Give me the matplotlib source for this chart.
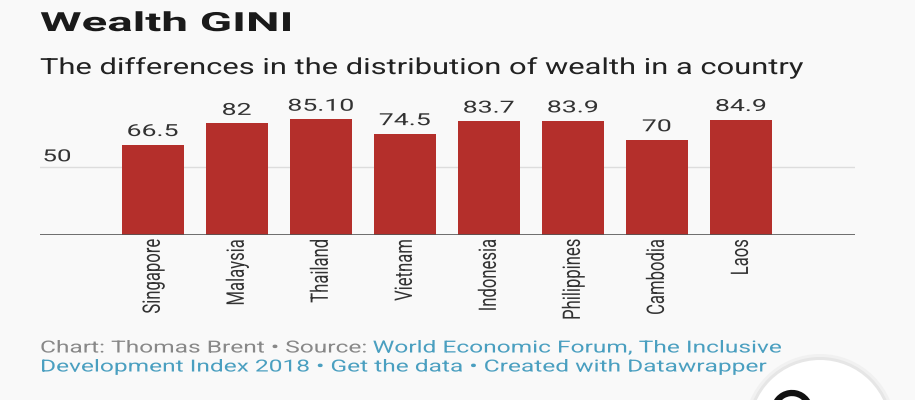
import matplotlib
matplotlib.use('Agg')
import matplotlib.pyplot as plt
from matplotlib.patches import Ellipse, Arc
from matplotlib.patheffects import AbstractPathEffect
from matplotlib.transforms import Affine2D

countries = ['Singapore', 'Malaysia', 'Thailand', 'Vietnam', 'Indonesia',
             'Philippines', 'Cambodia', 'Laos']
gini = [66.5, 82, 85.10, 74.5, 83.7, 83.9, 70, 84.9]
gini_labels = ['66.5', '82', '85.10', '74.5', '83.7', '83.9', '70', '84.9']


class Stretch(AbstractPathEffect):
    # the source screenshot is stretched sideways, so widen the glyphs to match
    def __init__(self, sx=1.0, sy=1.0, center=False):
        super().__init__()
        self.sx, self.sy, self.center = sx, sy, center

    def draw_path(self, renderer, gc, tpath, affine, rgbFace=None):
        cx = 0
        if self.center:
            ext = tpath.get_extents()
            cx = (ext.x0 + ext.x1) / 2
        t = Affine2D().translate(-cx, -36).scale(self.sx, self.sy).translate(cx, 36) + affine
        renderer.draw_path(gc, tpath, t, rgbFace)


plt.rcParams['font.family'] = ['Roboto', 'DejaVu Sans']
bg = '#f9f9f9'
W, H = 915, 400
fig = plt.figure(figsize=(9.15, 4.0), dpi=100, facecolor=bg)
ax = fig.add_axes([40 / W, 165 / H, 815 / W, 122.4 / H])
ax.set_facecolor(bg)

x = list(range(len(countries)))
bars = ax.bar(x, gini, width=0.74, color='#b42f2b', zorder=2)
for rect, lab in zip(bars, gini_labels):
    ax.annotate(lab, (rect.get_x() + rect.get_width() / 2, rect.get_height()),
                xytext=(0, 4), textcoords='offset points', ha='center', va='bottom',
                fontsize=12, color='#333333', path_effects=[Stretch(sx=1.6, center=True)])

ax.set_xlim(-1.34, 8.36)
ax.set_ylim(0, 90)
ax.axhline(50, color='#dddddd', lw=1, zorder=1)
ax.axhline(0, color='#555555', lw=1.2, zorder=3)
ax.text(0.003, 52, '50', transform=ax.get_yaxis_transform(), fontsize=12,
        color='#333333', va='bottom', ha='left', path_effects=[Stretch(sx=1.55)])
for s in ax.spines.values():
    s.set_visible(False)
ax.set_yticks([])
ax.set_xticks(x)
ax.set_xticklabels(countries, rotation=90, fontsize=12, color='#333333')
ax.tick_params(axis='x', length=0, pad=3)
for lab in ax.get_xticklabels():
    lab.set_path_effects([Stretch(sy=1.45)])

fig.text(40 / W, 1 - 24 / H, 'Wealth GINI', fontsize=19, fontweight='bold',
         color='#1a1a1a', va='center', path_effects=[Stretch(sx=1.8)])
fig.text(40 / W, 1 - 68 / H, 'The differences in the distribution of wealth in a country',
         fontsize=16, color='#222222', va='center', path_effects=[Stretch(sx=1.39)])

grey = '#888888'
blue = '#4a9fc0'
fs = 1.47
x0 = 40
t = fig.text(x0 / W, 1 - 348 / H, 'Chart: Thomas Brent \u2022 Source: ', fontsize=12,
             color=grey, va='center', path_effects=[Stretch(sx=fs)])
fig.canvas.draw()
bb = t.get_window_extent()
fig.text((x0 + (bb.x1 - x0) * fs) / W, 1 - 348 / H, 'World Economic Forum, The Inclusive',
         fontsize=12, color=blue, va='center', path_effects=[Stretch(sx=fs)])
fig.text(x0 / W, 1 - 367 / H,
         'Development Index 2018 \u2022 Get the data \u2022 Created with Datawrapper',
         fontsize=12, color=blue, va='center', path_effects=[Stretch(sx=fs)])

# floating button partly visible at bottom right
cxy = (820 / W, 1 - 430 / H)
for r, c in [(76, '#f1f1f1'), (73, '#e6e6e6')]:
    fig.patches.append(Ellipse(cxy, 2 * r / W, 2 * r / H, transform=fig.transFigure,
                               facecolor=c, edgecolor='none', zorder=4))
fig.patches.append(Ellipse(cxy, 140 / W, 140 / H, transform=fig.transFigure,
                           facecolor='white', edgecolor='none', zorder=5))
fig.patches.append(Arc((792 / W, 1 - 411 / H), 36 / W, 36 / H, theta1=35, theta2=325,
                       transform=fig.transFigure, color='#111111', lw=4.5, zorder=6))

fig.savefig('out.png', dpi=100, facecolor=bg)
